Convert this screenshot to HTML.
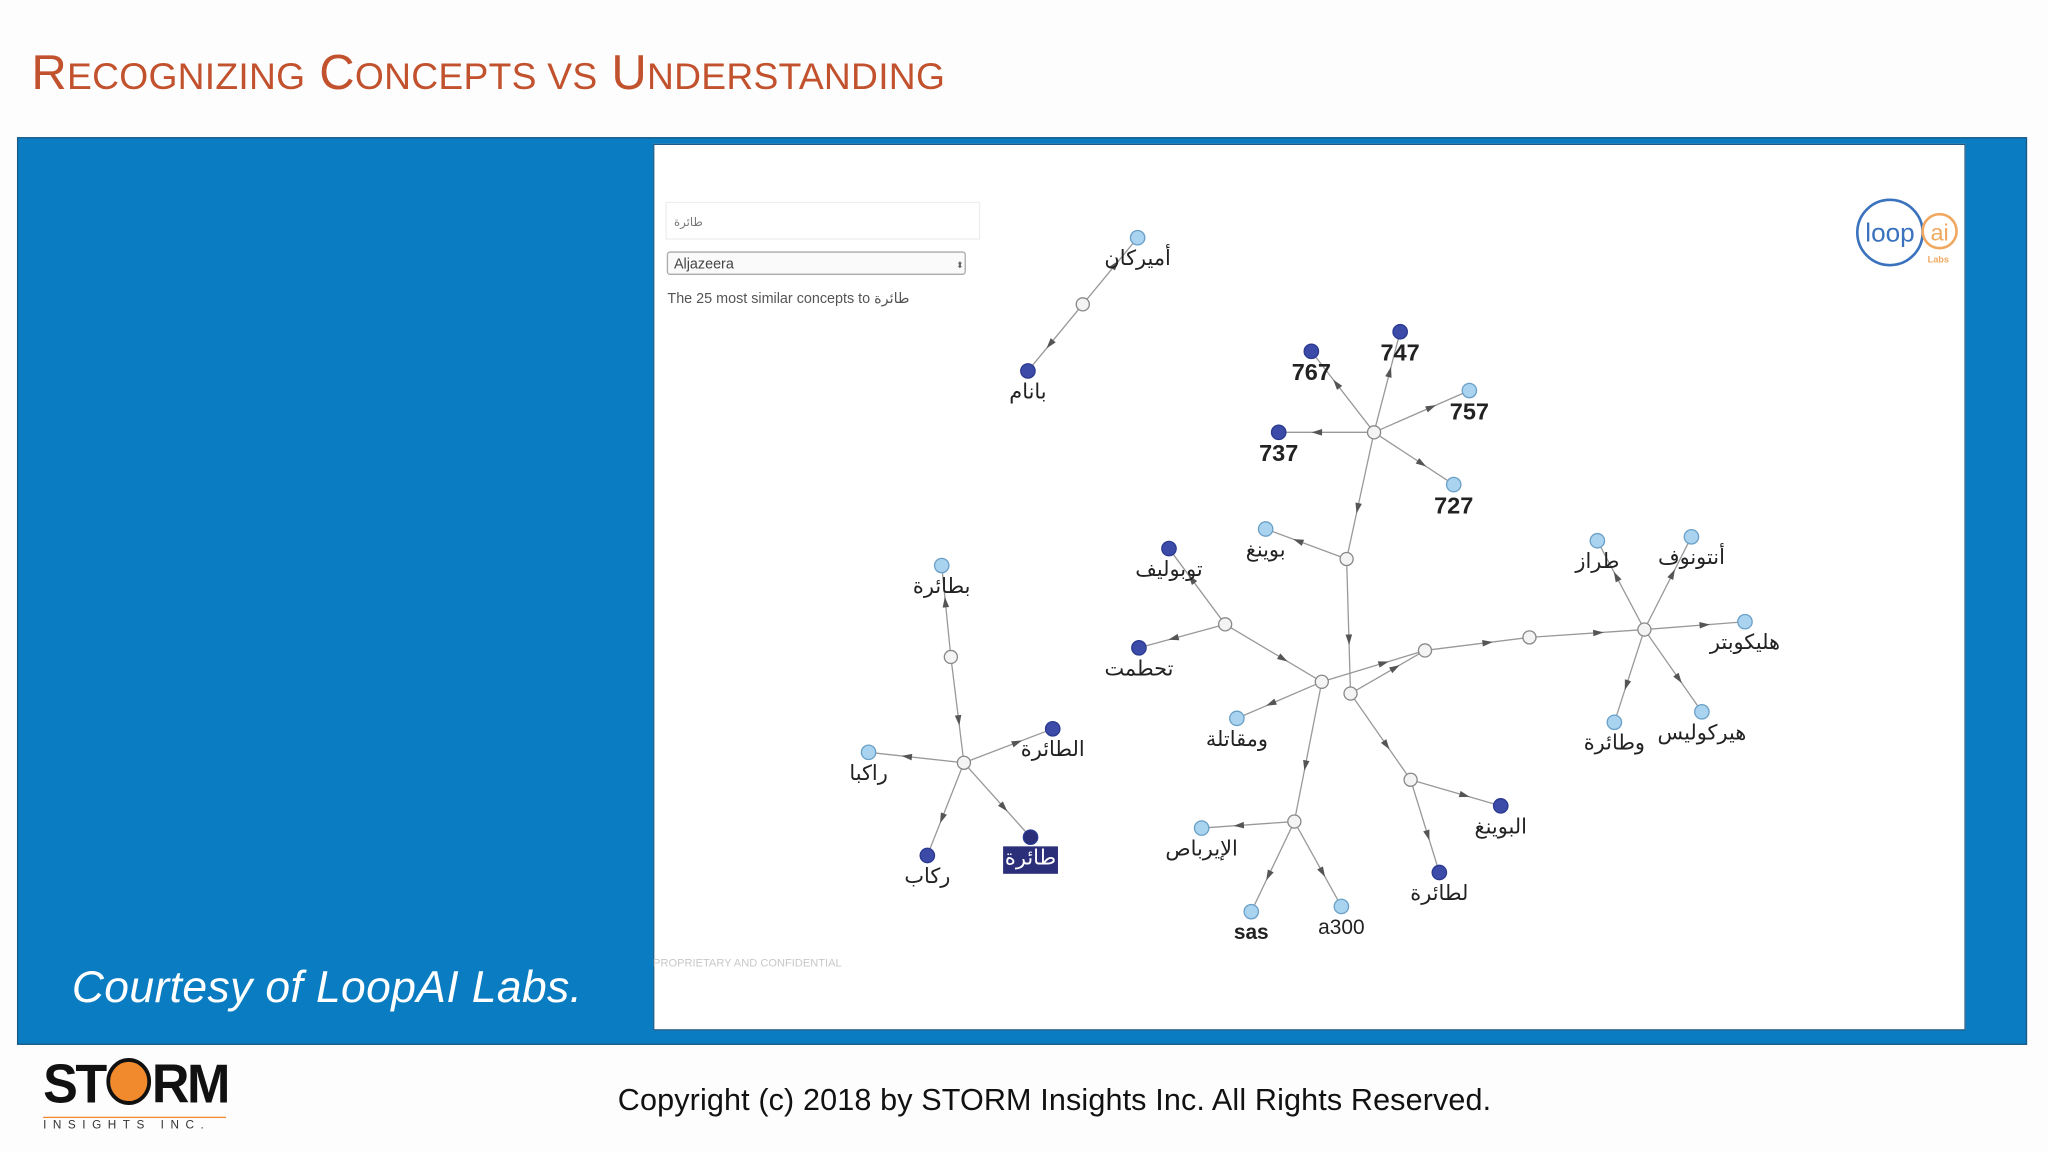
<!DOCTYPE html>
<html><head><meta charset="utf-8">
<style>
html,body{margin:0;padding:0;background:#fff;}
#root{position:absolute;left:0;top:0;width:1568px;height:882px;transform:scale(1.306122);transform-origin:0 0;background:#fdfdfd;font-family:"Liberation Sans","Noto Sans CJK SC",sans-serif;overflow:hidden;}
.abs{position:absolute;}
</style></head>
<body>
<div id="root">
  <div class="abs" style="left:24px;top:34px;color:#c2512d;font-size:37.5px;white-space:nowrap;letter-spacing:0.2px;">R<span style="font-size:28.5px">ECOGNIZING</span> C<span style="font-size:28.5px">ONCEPTS VS</span> U<span style="font-size:28.5px">NDERSTANDING</span></div>
  <div class="abs" style="left:13px;top:105px;width:1537px;height:693px;background:#0a7cc1;border:1px solid #1b5a86;"></div>
  <div class="abs" style="left:55px;top:737px;color:#fff;font-style:italic;font-size:34px;letter-spacing:0.3px;white-space:nowrap;">Courtesy of LoopAI Labs.</div>
  <div class="abs" style="left:500px;top:110px;width:1005px;height:679px;background:#fff;border:1px solid #1b5a86;box-sizing:border-box;"></div>
  <svg class="abs" style="left:0;top:0" width="1568" height="882" id="graph">
    <rect x="510" y="155" width="240" height="28" fill="#fff" stroke="#eee"/>
    <text x="516" y="173" font-size="9" fill="#777" font-family="'Liberation Sans','DejaVu Sans',sans-serif">طائرة</text>
    <rect x="511" y="193" width="228" height="17" rx="2" fill="#fafafa" stroke="#aaa"/>
    <text x="516" y="205.5" font-size="11" fill="#444" font-family="'Liberation Sans',sans-serif">Aljazeera</text>
    <text x="732" y="205" font-size="7" fill="#666">⬍</text>
    <text x="511" y="232" font-size="11" fill="#555" font-family="'Liberation Sans','DejaVu Sans',sans-serif">The 25 most similar concepts to طائرة</text>
    <text x="500" y="740" font-size="8.5" fill="#c8c8c8" font-family="'Liberation Sans',sans-serif">PROPRIETARY AND CONFIDENTIAL</text>
    <g>
      <circle cx="1447" cy="178" r="25" fill="none" stroke="#3a72bd" stroke-width="2"/>
      <text x="1447" y="185" font-size="20" fill="#3a72bd" text-anchor="middle" font-family="'Liberation Sans',sans-serif">loop</text>
      <circle cx="1485" cy="177" r="13" fill="none" stroke="#f0a860" stroke-width="2"/>
      <text x="1485" y="184" font-size="18" fill="#f0a860" text-anchor="middle" font-family="'Liberation Sans',sans-serif">ai</text>
      <text x="1484" y="201" font-size="7" fill="#f0a860" text-anchor="middle" font-weight="bold" font-family="'Liberation Sans',sans-serif">Labs</text>
    </g>
    <g id="edges"></g><g id="nodes"></g>
  </svg>
  <div class="abs" style="left:33px;top:806px;width:150px;height:62px;">
    <div style="font-family:'Liberation Sans',sans-serif;font-weight:bold;font-size:42px;letter-spacing:-2px;color:#111;line-height:48px;transform:scaleX(0.95);transform-origin:0 0;">ST<span style="display:inline-block;width:30px;height:30px;border-radius:50%;background:#f08a2c;border:3px solid #111;vertical-align:-2px;margin:0 1px;"></span>RM</div>
    <div style="border-top:1px solid #f08a2c;width:140px;margin-top:1px;font-size:9px;letter-spacing:5px;color:#333;font-family:'Liberation Sans',sans-serif;">INSIGHTS INC.</div>
  </div>
  <div class="abs" style="left:473px;top:829px;font-size:23.4px;letter-spacing:0.1px;color:#111;white-space:nowrap;">Copyright (c) 2018 by STORM Insights Inc. All Rights Reserved.</div>
</div>
<script>
const hubNames=["h1","h2","h3","h4","h5","h6","h7","h8","h9","h10","h11","h12","h13"];
const hubX=[829,1052,1031,938,1012,1034,1091,1171,1259,1080,991,728,738];
const hubY=[233,331,428,478,522,531,498,488,482,597,629,503,584];
const leafLabels=["أميركان","بانام","767","747","757","737","727","بوينغ","توبوليف","تحطمت","ومقاتلة","طراز","أنتونوف","هليكوبتر","وطائرة","هيركوليس","البوينغ","لطائرة","الإيرباص","sas","a300","بطائرة","الطائرة","راكبا","ركاب","طائرة"];
const leafX=[871,787,1004,1072,1125,979,1113,969,895,872,947,1223,1295,1336,1236,1303,1149,1102,920,958,1027,721,806,665,710,789];
const leafY=[182,284,269,254,299,331,371,405,420,496,550,414,411,476,553,545,617,668,634,698,694,433,558,576,655,641];
const leafType=[0,1,1,1,0,1,0,0,1,1,0,0,0,0,0,0,1,1,0,0,0,0,1,0,1,2];
const leafHub=[0,0,1,1,1,1,1,2,3,3,4,8,8,8,8,8,9,9,10,10,10,11,12,12,12,12];
const hubLinks=[[1,2],[2,5],[3,4],[4,6],[5,6],[6,7],[7,8],[5,9],[4,10],[11,12]];
const NS="http://www.w3.org/2000/svg";
const E=document.getElementById('edges'),N=document.getElementById('nodes');
function edge(x1,y1,x2,y2){
  const l=document.createElementNS(NS,'line');
  l.setAttribute('x1',x1);l.setAttribute('y1',y1);l.setAttribute('x2',x2);l.setAttribute('y2',y2);
  l.setAttribute('stroke','#999');l.setAttribute('stroke-width','1');
  
  
  E.appendChild(l);
  const mx=x1+(x2-x1)*0.6,my=y1+(y2-y1)*0.6,a=Math.atan2(y2-y1,x2-x1)*180/Math.PI;
  const p=document.createElementNS(NS,'path');
  p.setAttribute('d','M4,0 L-4,-2.5 L-4,2.5 Z');p.setAttribute('fill','#555');
  p.setAttribute('transform','translate('+mx+','+my+') rotate('+a+')');
  
  
  E.appendChild(p);
}
hubLinks.forEach(([a,b])=>edge(hubX[a],hubY[a],hubX[b],hubY[b]));
leafLabels.forEach((t,i)=>edge(hubX[leafHub[i]],hubY[leafHub[i]],leafX[i],leafY[i]));
hubNames.forEach((h,i)=>{
  const c=document.createElementNS(NS,'circle');
  c.setAttribute('cx',hubX[i]);c.setAttribute('cy',hubY[i]);c.setAttribute('r',5);
  c.setAttribute('fill','#f4f4f4');c.setAttribute('stroke','#888');
  
  
  N.appendChild(c);
});
const colors=['#a9d3ef','#3c4ba8','#2b2e78'];
leafLabels.forEach((t,i)=>{
  const c=document.createElementNS(NS,'circle');
  c.setAttribute('cx',leafX[i]);c.setAttribute('cy',leafY[i]);c.setAttribute('r',5.5);
  c.setAttribute('fill',colors[leafType[i]]);c.setAttribute('stroke',leafType[i]?'#2a3a90':'#6aa0c8');
  
  
  N.appendChild(c);
  const num=/^[0-9]+$/.test(t);
  const lx=leafX[i],ly=leafY[i]+(num?22:21);
  if(leafType[i]===2){
    const r=document.createElementNS(NS,'rect');
    r.setAttribute('x',lx-21);r.setAttribute('y',ly-14);r.setAttribute('width',42);r.setAttribute('height',21);
    r.setAttribute('fill','#2b2e78');
    
    
    N.appendChild(r);
  }
  const tx=document.createElementNS(NS,'text');
  tx.setAttribute('x',lx);tx.setAttribute('y',ly);tx.setAttribute('text-anchor','middle');
  tx.setAttribute('font-size',num?18:16);
  if(num||t==='sas')tx.setAttribute('font-weight','bold');
  tx.setAttribute('fill',leafType[i]===2?'#fff':'#222');
  tx.setAttribute('font-family',"'Liberation Sans','DejaVu Sans',sans-serif");
  tx.textContent=t;
  
  
  N.appendChild(tx);
});
</script>
</body></html>
